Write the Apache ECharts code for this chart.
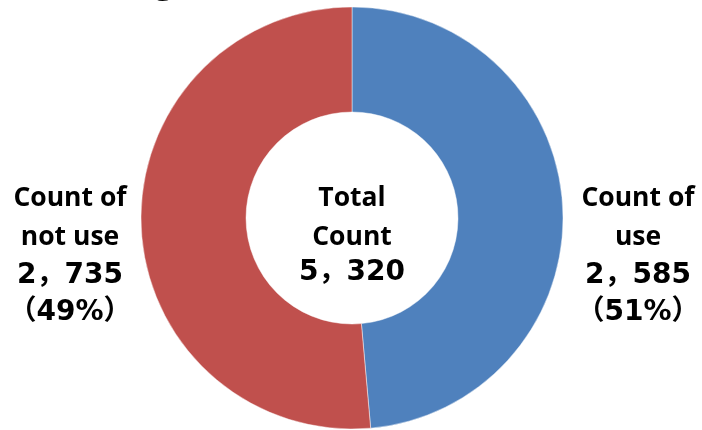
<!DOCTYPE html>
<html>
<head>
<meta charset="utf-8">
<script src="https://cdn.jsdelivr.net/npm/echarts@6/dist/echarts.min.js"></script>
<style>
  html, body { margin: 0; padding: 0; background: #fff; }
  #chart { width: 702px; height: 430px; }
</style>
</head>
<body>
<div id="chart"></div>
<script>
// Usage counts, drawn clockwise from 12 o'clock
const categories = ['use', 'not use'];
const counts = [2585, 2735];
const shareLabels = ['51%', '49%'];
const sliceColors = ['#4F81BD', '#C0504D'];
const totalTitle = ['Total', 'Count'];

const latin = '"Open Sans", Lato, "Noto Sans", sans-serif';
const numeric = '"DejaVu Sans", "Noto Sans CJK JP", sans-serif';

// Japanese-style number formatting with a full-width comma
function fmt(n) {
  return String(n).replace(/\B(?=(\d{3})+(?!\d))/g, '，');
}
const total = counts.reduce((a, b) => a + b, 0);

function textEl(str, font, size, x, y) {
  return {
    type: 'text', x: x, y: y,
    style: {
      text: str, fontFamily: font, fontSize: size, fontWeight: 'bold',
      fill: '#000', align: 'center', verticalAlign: 'middle'
    }
  };
}

function sideLabel(idx, cx) {
  return [
    textEl('Count of', latin, 26.5, cx, 198),
    textEl(categories[idx], latin, 26.5, cx, 237),
    textEl(fmt(counts[idx]), numeric, 28, cx, 276),
    textEl('（' + shareLabels[idx] + '）', numeric, 28, cx, 313)
  ];
}

const chart = echarts.init(document.getElementById('chart'), null, { renderer: 'canvas' });

chart.setOption({
  animation: false,
  backgroundColor: '#fff',
  color: sliceColors,
  series: [{
    type: 'pie',
    center: [352, 218],
    radius: [106, 211],
    startAngle: 90,
    clockwise: true,
    label: { show: false },
    labelLine: { show: false },
    emphasis: { disabled: true },
    itemStyle: { borderColor: 'rgba(255,255,255,0.45)', borderWidth: 1 },
    data: categories.map((c, i) => ({ name: c, value: counts[i] }))
  }],
  graphic: [
    // heading runs off the top edge; only its descender remains in view
    textEl('g', latin, 34, 164, -17),
    ...sideLabel(1, 70),
    ...sideLabel(0, 638),
    textEl(totalTitle[0], latin, 26.5, 352, 198),
    textEl(totalTitle[1], latin, 26.5, 352, 237),
    textEl(fmt(total), numeric, 28, 352, 273)
  ]
});
</script>
</body>
</html>
